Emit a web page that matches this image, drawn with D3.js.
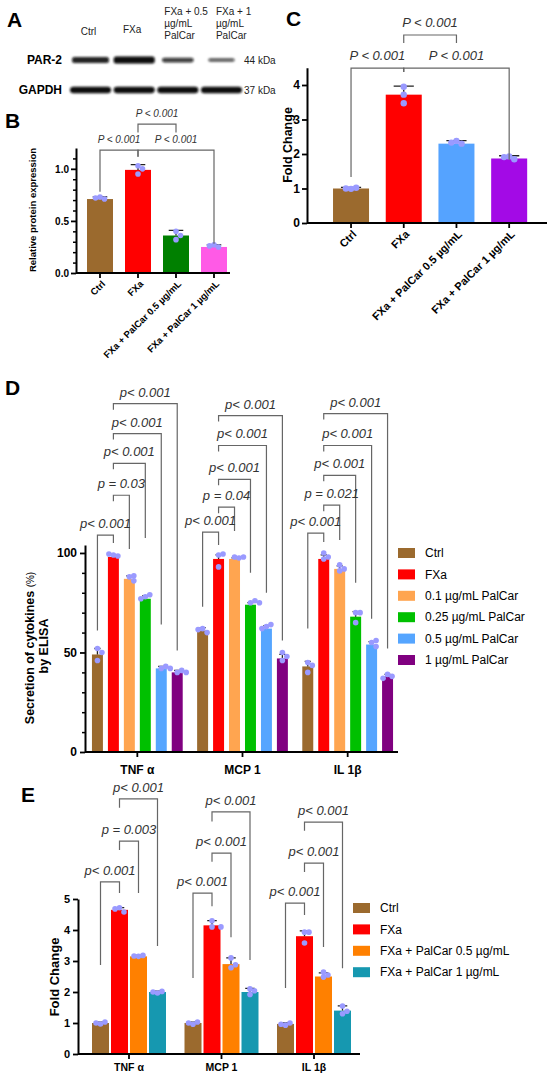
<!DOCTYPE html>
<html>
<head>
<meta charset="utf-8">
<script src="https://cdn.jsdelivr.net/npm/d3@7"></script>
<style>
body { margin: 0; background: #fff; }
svg { display: block; font-family: "Liberation Sans", Arial, sans-serif; }
</style>
</head>
<body>
<svg width="550" height="1082"></svg>
<script>
// ---- panel A (blot) ----
var laneLabels = [["Ctrl"], ["FXa"], ["FXa + 0.5", "µg/mL", "PalCar"], ["FXa + 1", "µg/mL", "PalCar"]];
var blotRows = ["PAR-2", "GAPDH"];
var blotSizes = ["44 kDa", "37 kDa"];
var par2Bands = [0.8, 1.0, 0.55, 0.3];
var gapdhBands = [0.95, 0.9, 0.95, 0.95];

// ---- panel B ----
var groupsB = ["Ctrl", "FXa", "FXa + PalCar 0.5 µg/mL", "FXa + PalCar 1 µg/mL"];
var meansB = [0.71, 0.99, 0.36, 0.25];
var sdB = [0.02, 0.05, 0.05, 0.02];
var pointsB = [[0.73, 0.71, 0.72], [1.03, 1.00, 0.95], [0.40, 0.36, 0.32], [0.27, 0.25, 0.26]];
var ticksB = [0, 0.5, 1.0];
var minorB = [0.1, 0.2, 0.3, 0.4, 0.6, 0.7, 0.8, 0.9, 1.1];
// [from, to, level, left leg end, right leg end, label]
var statsB = [[0, 1, 1.18, 0.78, 1.115, "P < 0.001"], [1, 3, 1.18, 1.115, 0.28, "P < 0.001"], [1, 2, 1.43, 1.35, 1.35, "P < 0.001"]];

// ---- panel C ----
var groupsC = ["Ctrl", "FXa", "FXa + PalCar 0.5 µg/mL", "FXa + PalCar 1 µg/mL"];
var meansC = [1.0, 3.72, 2.30, 1.87];
var sdC = [0.03, 0.25, 0.09, 0.08];
var pointsC = [[0.99, 1.02, 1.0], [3.95, 3.72, 3.47], [2.38, 2.30, 2.33], [1.93, 1.85, 1.91]];
var ticksC = [0, 1, 2, 3, 4];
var statsC = [[0, 1, 4.49, 1.33, 4.38, "P < 0.001"], [1, 3, 4.49, 4.38, 1.83, "P < 0.001"], [1, 2, 5.45, 5.22, 5.22, "P < 0.001"]];

// ---- panel D ----
var cytokines = ["TNF α", "MCP 1", "IL 1β"];
var seriesD = ["Ctrl", "FXa", "0.1 µg/mL PalCar", "0.25 µg/mL PalCar", "0.5 µg/mL PalCar", "1 µg/mL PalCar"];
var meansD = [[49, 98, 87, 77, 42, 40], [61, 97, 97, 74, 62, 47], [43, 97, 92, 68, 54, 38]];
var sdD = [[3, 1, 1.5, 1.5, 1, 1], [1.5, 2, 0.5, 1, 1.5, 2], [2.5, 2, 1.5, 2.5, 1.5, 1]];
var pointsD = [
	[[52, 50, 46], [99, 98.5, 99.5], [88, 86, 88.5], [78, 79, 77], [42, 43, 42], [40, 41, 40]],
	[[62, 60, 61.5], [99, 99.5, 93], [98, 97.5, 98], [75, 76, 75], [63, 64, 62], [50, 48, 46]],
	[[45, 43.5, 40], [100, 97, 98], [94, 92, 91], [70, 70, 65], [55, 56, 53], [39, 38, 37]]
];
var ticksD = [0, 50, 100];
var minorD = [10, 20, 30, 40, 60, 70, 80, 90];
// [cytokine, from, to, level, left leg end, right leg end, label]
var statsD = [
	[0, 0, 1, 109, 61, 105, "p< 0.001"], [0, 1, 2, 129, 126, 102, "p = 0.03"], [0, 1, 3, 145, 142, 107.5, "p< 0.001"],
	[0, 1, 4, 160, 157, 64, "p< 0.001"], [0, 1, 5, 175, 172, 51, "p< 0.001"],
	[1, 0, 1, 110.5, 73, 104, "p< 0.001"], [1, 1, 2, 123, 120, 111, "p = 0.04"], [1, 1, 3, 137, 134, 90, "p< 0.001"],
	[1, 1, 4, 154, 151, 80, "p< 0.001"], [1, 1, 5, 169, 166, 56, "p< 0.001"],
	[2, 0, 1, 110, 62, 105.5, "p< 0.001"], [2, 1, 2, 124, 121, 106.5, "p =  0.021"], [2, 1, 3, 139, 136, 85, "p< 0.001"],
	[2, 1, 4, 154, 151, 67, "p< 0.001"], [2, 1, 5, 170, 167, 52, "p< 0.001"]
];

// ---- panel E ----
var seriesE = ["Ctrl", "FXa", "FXa + PalCar 0.5 µg/mL", "FXa + PalCar 1 µg/mL"];
var meansE = [[1.0, 4.65, 3.15, 2.0], [1.0, 4.15, 2.9, 2.0], [0.97, 3.8, 2.5, 1.4]];
var sdE = [[0.03, 0.07, 0.03, 0.03], [0.03, 0.15, 0.2, 0.12], [0.03, 0.17, 0.12, 0.15]];
var pointsE = [
	[[0.97, 1.03, 1.0], [4.72, 4.58, 4.68], [3.15, 3.18, 3.16], [1.97, 2.02, 2.0]],
	[[0.96, 1.03, 1.0], [4.3, 4.1, 4.1], [3.1, 2.78, 2.88], [2.1, 1.92, 2.04]],
	[[0.93, 1.0, 0.96], [3.93, 3.93, 3.58], [2.64, 2.48, 2.55], [1.55, 1.3, 1.38]]
];
var ticksE = [0, 1, 2, 3, 4, 5];
var statsE = [
	[0, 0, 1, 5.55, 2.87, 5.19, "p< 0.001"], [0, 1, 2, 6.87, 6.58, 5.19, "p = 0.003"], [0, 1, 3, 8.23, 7.94, 3.48, "p< 0.001"],
	[1, 0, 1, 5.19, 2.45, 4.77, "p< 0.001"], [1, 1, 2, 6.48, 6.2, 3.77, "p< 0.001"], [1, 1, 3, 7.81, 7.5, 3.03, "p< 0.001"],
	[2, 0, 1, 4.87, 2.13, 4.48, "p< 0.001"], [2, 1, 2, 6.16, 5.87, 3.45, "p< 0.001"], [2, 1, 3, 7.48, 7.2, 2.77, "p< 0.001"]
];

// colours
var brown = "#9b6a2e", dotColor = "#9a9aff";
var colorsB = [brown, "#ff0000", "#008000", "#ff5ae6"];
var colorsC = [brown, "#ff0000", "#55a3ff", "#a30ae6"];
var colorsD = [brown, "#ff0000", "#ffa550", "#00c000", "#55a5ff", "#800080"];
var colorsE = [brown, "#ff0000", "#ff8000", "#1698b0"];

var svg = d3.select("svg");

function letter(x, y, t) {
	svg.append("text").attr("x", x).attr("y", y).attr("font-size", 21).attr("font-weight", "bold").text(t);
}

// spread dots that would overlap (like a column scatter)
function swarm(vals, y, cx, r) {
	var placed = [], steps = [0, 1, -1, 2, -2];
	vals.forEach(function(v) {
		var py = y(v), px, k = 0;
		do {
			px = cx + steps[k] * r * 1.6;
			k++;
		} while (k < steps.length && placed.some(function(p) { return Math.hypot(p[0] - px, p[1] - py) < r * 1.6; }));
		placed.push([px, py]);
	});
	return placed;
}

function drawBars(g, xs, bw, y, means, sds, pts, colors, r) {
	g.selectAll("rect.bar").data(means).enter().append("rect")
		.attr("class", "bar")
		.attr("x", function(d, i) { return xs[i]; })
		.attr("y", function(d) { return y(d); })
		.attr("width", bw)
		.attr("height", function(d) { return y(0) - y(d); })
		.attr("fill", function(d, i) { return colors[i]; });
	g.selectAll("path.err").data(means).enter().append("path")
		.attr("class", "err")
		.attr("d", function(d, i) {
			var cx = xs[i] + bw / 2, top = y(d + sds[i]), cap = bw * 0.28;
			return "M" + cx + "," + y(d) + "V" + top + "M" + (cx - cap) + "," + top + "H" + (cx + cap);
		})
		.attr("fill", "none").attr("stroke", "#222").attr("stroke-width", 1.3);
	pts.forEach(function(p, i) {
		g.append("g").selectAll("circle").data(swarm(p, y, xs[i] + bw / 2, r)).enter().append("circle")
			.attr("cx", function(d) { return d[0]; })
			.attr("cy", function(d) { return d[1]; })
			.attr("r", r)
			.attr("fill", dotColor);
	});
}

function drawStats(g, centers, y, stats, fs, gap) {
	g.append("g").selectAll("path").data(stats).enter().append("path")
		.attr("d", function(d) {
			return "M" + centers[d[0]] + "," + y(d[3]) + "V" + y(d[2]) + "H" + centers[d[1]] + "V" + y(d[4]);
		})
		.attr("fill", "none").attr("stroke", "#666").attr("stroke-width", 1.2);
	g.append("g").selectAll("text").data(stats).enter().append("text")
		.attr("x", function(d) { return (centers[d[0]] + centers[d[1]]) / 2; })
		.attr("y", function(d) { return y(d[2]) - gap; })
		.attr("text-anchor", "middle")
		.attr("font-style", "italic")
		.attr("font-size", fs)
		.attr("fill", "#333")
		.text(function(d) { return d[5]; });
}

function yAxis(g, x, y, major, minor, fmt, fs, pad) {
	var a = g.append("g").attr("transform", "translate(" + x + ",0)")
		.call(d3.axisLeft(y).tickValues(major).tickSize(5).tickSizeOuter(0).tickPadding(pad).tickFormat(fmt));
	a.attr("font-family", null).attr("font-size", fs).attr("font-weight", "bold");
	a.select(".domain").attr("stroke-width", 2);
	a.selectAll(".tick line").attr("stroke-width", 1.8);
	if (minor) {
		var m = g.append("g").attr("transform", "translate(" + x + ",0)")
			.call(d3.axisLeft(y).tickValues(minor).tickSize(3).tickFormat(""));
		m.select(".domain").remove();
		m.selectAll(".tick line").attr("stroke-width", 1.5);
	}
}

function xAxis(g, y0, x1, x2, band, fs, pad, rotate) {
	g.append("line").attr("x1", x1).attr("x2", x2).attr("y1", y0).attr("y2", y0)
		.attr("stroke", "#000").attr("stroke-width", 2);
	var a = g.append("g").attr("transform", "translate(0," + y0 + ")")
		.call(d3.axisBottom(band).tickSize(5).tickSizeOuter(0).tickPadding(pad));
	a.select(".domain").remove();
	a.attr("font-family", null).attr("font-size", fs).attr("font-weight", "bold");
	a.selectAll(".tick line").attr("stroke-width", 1.8);
	if (rotate) {
		a.selectAll(".tick text")
			.attr("text-anchor", "end")
			.attr("x", -4).attr("y", 9).attr("dy", "0.35em")
			.attr("transform", "rotate(-45)");
	}
	return a;
}

function legend(g, x, y, step, names, colors) {
	var item = g.selectAll("g.leg").data(names).enter().append("g")
		.attr("class", "leg")
		.attr("transform", function(d, i) { return "translate(" + x + "," + (y + i * step) + ")"; });
	item.append("rect").attr("x", 0).attr("y", -5).attr("width", 17).attr("height", 10)
		.attr("fill", function(d, i) { return colors[i]; });
	item.append("text").attr("x", 27).attr("dy", "0.35em").attr("font-size", 12).text(function(d) { return d; });
}

// ================= A: western blot =================
(function() {
	var g = svg.append("g");
	var lane = d3.scaleBand().domain(d3.range(4)).range([70, 242]).paddingInner(0.06);
	var rowY = d3.scalePoint().domain(blotRows).range([60, 90]);
	var defs = svg.append("defs");
	defs.append("filter").attr("id", "soft").append("feGaussianBlur").attr("stdDeviation", 0.8);

	letter(7, 27, "A");

	laneLabels.forEach(function(lines, i) {
		var t = g.append("text").attr("font-size", 10).attr("fill", "#222");
		if (lines.length == 1) {
			t.attr("x", lane(i) + lane.bandwidth() / 2 - 2).attr("y", i == 0 ? 35 : 33).attr("text-anchor", "middle").text(lines[0]);
		} else {
			// multi-line labels sit towards the right of their lane
			t.selectAll("tspan").data(lines).enter().append("tspan")
				.attr("x", lane(i) + (i == 2 ? 7 : 15)).attr("y", function(d, k) { return 15 + k * 12; })
				.text(function(d) { return d; });
		}
	});

	g.selectAll("text.row").data(blotRows).enter().append("text")
		.attr("class", "row")
		.attr("x", 62).attr("y", function(d) { return rowY(d); }).attr("dy", "0.35em")
		.attr("text-anchor", "end").attr("font-weight", "bold").attr("font-size", 12)
		.text(function(d) { return d; });
	g.selectAll("text.kda").data(blotSizes).enter().append("text")
		.attr("class", "kda")
		.attr("x", 244).attr("y", function(d, i) { return rowY(blotRows[i]); }).attr("dy", "0.35em")
		.attr("font-size", 10).attr("fill", "#222")
		.text(function(d) { return d; });

	var bands = g.append("g").attr("filter", "url(#soft)");
	bands.selectAll("rect.par").data(par2Bands).enter().append("rect")
		.attr("class", "par")
		.attr("x", function(d, i) { return lane(i) + lane.bandwidth() * (1 - (0.5 + 0.5 * d)) / 2; })
		.attr("width", function(d) { return lane.bandwidth() * (0.5 + 0.5 * d); })
		.attr("y", function(d) { return rowY("PAR-2") - (1 + 2.5 * d); })
		.attr("height", function(d) { return 2 + 5 * d; })
		.attr("rx", 2.5)
		.attr("fill", "#0a0a0a")
		.attr("opacity", function(d) { return 0.55 + 0.45 * d; });
	bands.selectAll("rect.gap").data(gapdhBands).enter().append("rect")
		.attr("class", "gap")
		.attr("x", function(d, i) { return lane(i); })
		.attr("width", lane.bandwidth())
		.attr("y", function(d) { return rowY("GAPDH") - 3.5 * d; })
		.attr("height", function(d) { return 7 * d; })
		.attr("rx", 3.5)
		.attr("fill", "#0a0a0a");
})();

// ================= B =================
(function() {
	var g = svg.append("g");
	var y = d3.scaleLinear().domain([0, 1.2]).range([273, 148]);
	var x = d3.scaleBand().domain(groupsB).range([81, 233]).paddingInner(0.316).paddingOuter(0.158);
	letter(5, 128, "B");
	drawBars(g, groupsB.map(function(d) { return x(d); }), x.bandwidth(), y, meansB, sdB, pointsB, colorsB, 2.8);
	drawStats(g, groupsB.map(function(d) { return x(d) + x.bandwidth() / 2; }), y, statsB, 10, 7);
	yAxis(g, 76, y, ticksB, minorB, d3.format(".1f"), 10, 2);
	xAxis(g, 273, 76, 230, x, 9.5, 3, true);
	g.append("text").attr("transform", "translate(36,210) rotate(-90)")
		.attr("text-anchor", "middle").attr("font-weight", "bold").attr("font-size", 9.5)
		.text("Relative protein expression");
})();

// ================= C =================
(function() {
	var g = svg.append("g");
	var y = d3.scaleLinear().domain([0, 4.5]).range([223, 67.75]);
	var x = d3.scaleBand().domain(groupsC).range([324.7, 535.5]).paddingInner(0.317).paddingOuter(0.158);
	letter(286, 26, "C");
	drawBars(g, groupsC.map(function(d) { return x(d); }), x.bandwidth(), y, meansC, sdC, pointsC, colorsC, 3.2);
	drawStats(g, groupsC.map(function(d) { return x(d) + x.bandwidth() / 2; }), y, statsC, 13, 8);
	yAxis(g, 307, y, ticksC, null, d3.format("d"), 12, 2);
	xAxis(g, 223, 307, 547, x, 11, 3, true);
	g.append("text").attr("transform", "translate(292,145) rotate(-90)")
		.attr("text-anchor", "middle").attr("font-weight", "bold").attr("font-size", 12.5)
		.text("Fold Change");
})();

// grouped bar panels (D and E)
function groupedPanel(opt) {
	var g = svg.append("g");
	var x0 = d3.scaleBand().domain(cytokines).range(opt.range).paddingInner(opt.pi).paddingOuter(opt.pi / 2);
	var x1 = d3.scaleBand().domain(d3.range(opt.series.length)).range([0, x0.bandwidth()]).paddingInner(opt.pi1);
	cytokines.forEach(function(c, k) {
		var gg = g.append("g");
		var xs = opt.series.map(function(s, i) { return x0(c) + x1(i); });
		drawBars(gg, xs, x1.bandwidth(), opt.y, opt.means[k], opt.sds[k], opt.points[k], opt.colors, opt.r);
		var st = opt.stats.filter(function(d) { return d[0] == k; }).map(function(d) { return d.slice(1); });
		drawStats(gg, xs.map(function(v) { return v + x1.bandwidth() / 2; }), opt.y, st, 13, 7);
	});
	yAxis(g, opt.axisX, opt.y, opt.ticks, opt.minor, d3.format("d"), opt.tickFs, 3);
	xAxis(g, opt.y(0), opt.axisX, opt.axisEnd, x0, opt.catFs, opt.catPad, false);
	legend(g, opt.legX, opt.legY, 21.4, opt.series, opt.colors);
	return g;
}

// ================= D =================
(function() {
	letter(5, 395, "D");
	var y = d3.scaleLinear().domain([0, 104]).range([752, 545]);
	var g = groupedPanel({
		range: [84.75, 400.25], pi: 0.137, pi1: 0.3125, y: y, series: seriesD, colors: colorsD,
		means: meansD, sds: sdD, points: pointsD, stats: statsD, r: 2.8,
		axisX: 85, axisEnd: 398, ticks: ticksD, minor: minorD, tickFs: 12, catFs: 12, catPad: 8,
		legX: 398, legY: 553
	});
	var t = g.append("text").attr("transform", "translate(34,648) rotate(-90)")
		.attr("text-anchor", "middle").attr("font-weight", "bold").attr("font-size", 12.5);
	t.append("tspan").text("Secretion of cytokines ");
	t.append("tspan").attr("font-weight", "normal").attr("font-size", 10).text("(%)");
	g.append("text").attr("transform", "translate(48,646) rotate(-90)")
		.attr("text-anchor", "middle").attr("font-weight", "bold").attr("font-size", 12.5)
		.text("by ELISA");
})();

// ================= E =================
(function() {
	letter(21, 802, "E");
	var y = d3.scaleLinear().domain([0, 5]).range([1054, 899]);
	var g = groupedPanel({
		range: [82.75, 360.25], pi: 0.2, pi1: 0.105, y: y, series: seriesE, colors: colorsE,
		means: meansE, sds: sdE, points: pointsE, stats: statsE, r: 2.8,
		axisX: 78, axisEnd: 360, ticks: ticksE, minor: null, tickFs: 11, catFs: 10.5, catPad: 5,
		legX: 353, legY: 908
	});
	g.append("text").attr("transform", "translate(59,977) rotate(-90)")
		.attr("text-anchor", "middle").attr("font-weight", "bold").attr("font-size", 13)
		.text("Fold Change");
})();
</script>
</body>
</html>
